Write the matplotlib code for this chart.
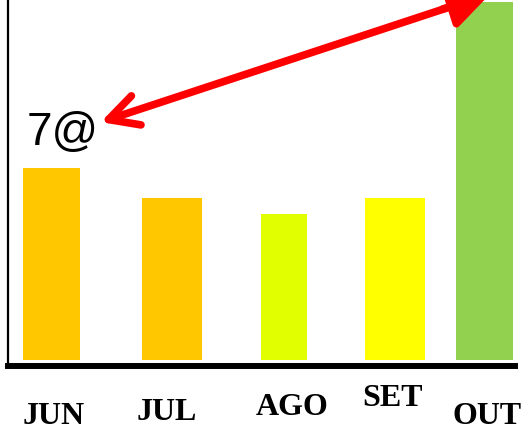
import matplotlib
matplotlib.use("Agg")
import matplotlib.pyplot as plt
import numpy as np

# data
months = ["JUN", "JUL", "AGO", "SET", "OUT"]
values = [192, 162, 146, 162, 358]
colors = ["#FFC700", "#FFC700", "#E2FF00", "#FFFF00", "#92D050"]
note = "7@"

# hand drawn look: bars not evenly spaced, not same width
nudge = [-0.073, 0.034, 0.062, 0.083, -0.10]
widths = [0.523, 0.551, 0.422, 0.551, 0.523]
label_y = [-0.137, -0.127, -0.113, -0.090, -0.137]
label_dx = [0.02, -0.046, 0.073, -0.028, 0.028]

fig = plt.figure(figsize=(5.30, 4.33), dpi=100)
ax = fig.add_axes([8 / 530, 67 / 433, 507 / 530, 366 / 433])

xpos = np.arange(len(months)) + np.array(nudge)
ax.bar(xpos, values, width=widths, color=colors, zorder=1)

ax.set_xlim(-0.472, 4.184)
ax.set_ylim(-6, 360)

for side in ["top", "right"]:
    ax.spines[side].set_visible(False)
ax.spines["left"].set_linewidth(1.6)
ax.spines["bottom"].set_linewidth(4.3)
ax.spines["bottom"].set_zorder(3)
ax.set_xticks([])
ax.set_yticks([])

for i, m in enumerate(months):
    ax.text(xpos[i] + label_dx[i], label_y[i], m, transform=ax.get_xaxis_transform(),
            ha="center", va="center", fontsize=23, fontweight="bold",
            family="Liberation Serif", clip_on=False)

ax.text(0.108, 0.637, note, transform=ax.transAxes, ha="center", va="center",
        fontsize=33, family="Liberation Sans")

# red double arrow from the note up to the OUT bar
ax.annotate("", xy=(0.185, 0.716), xytext=(0.906, 1.007),
            xycoords="figure fraction", textcoords="figure fraction",
            arrowprops=dict(arrowstyle="->,head_length=2.1,head_width=1.1",
                            color="red", lw=5.5, capstyle="round",
                            joinstyle="round"),
            annotation_clip=False)
ax.annotate("", xy=(0.930, 1.016), xytext=(0.830, 0.977),
            xycoords="figure fraction", textcoords="figure fraction",
            arrowprops=dict(arrowstyle="-|>,head_length=2.4,head_width=1.3",
                            color="red", lw=5.5),
            annotation_clip=False)

fig.savefig("out.png", dpi=100)
